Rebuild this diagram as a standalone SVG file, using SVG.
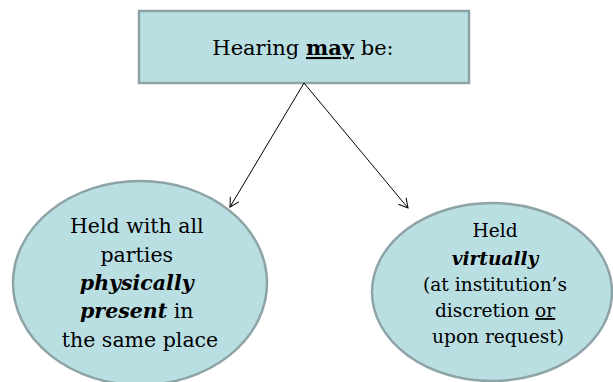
<svg xmlns="http://www.w3.org/2000/svg" width="613" height="382" viewBox="0 0 613 382">
<defs>
<marker id="arr" markerWidth="12" markerHeight="12" refX="10" refY="6" orient="auto" markerUnits="userSpaceOnUse">
<path d="M1,1 L10,6 L1,11" fill="none" stroke="#000" stroke-width="1"/>
</marker>
</defs>
<style>
.shape{fill:#b9dfe3;stroke:#8ea3a6;stroke-width:2.5}
.t{font-family:"DejaVu Serif","Liberation Serif",serif;fill:#000;text-anchor:middle}
.b{font-weight:bold}
.bi{font-weight:bold;font-style:italic}
.conn{stroke:#000;stroke-width:1;fill:none}
</style>
<rect width="613" height="382" fill="#fff"/>
<g id="top">
<rect class="shape" x="139" y="11" width="330" height="72"/>
<text class="t" x="303" y="55" font-size="21">Hearing <tspan class="b" text-decoration="underline">may</tspan> be:</text>
</g>
<g id="left">
<ellipse class="shape" cx="140" cy="283" rx="127" ry="102"/>
<text class="t" font-size="20.5">
<tspan x="140" y="233">Held with all</tspan>
<tspan x="140" y="262">parties</tspan>
<tspan x="140" y="290" class="bi">physically</tspan>
<tspan x="140" y="318"><tspan class="bi">present</tspan> in</tspan>
<tspan x="140" y="347">the same place</tspan>
</text>
</g>
<g id="right">
<ellipse class="shape" cx="492" cy="292" rx="120" ry="89"/>
<text class="t" font-size="18.6">
<tspan x="498" y="237">Held</tspan>
<tspan x="498" y="265" class="bi">virtually</tspan>
<tspan x="498" y="291">(at institution’s</tspan>
<tspan x="498" y="317">discretion <tspan text-decoration="underline">or</tspan></tspan>
<tspan x="498" y="343">upon request)</tspan>
</text>
</g>
<g id="connectors">
<line class="conn" x1="304" y1="83" x2="230" y2="207" marker-end="url(#arr)"/>
<line class="conn" x1="304" y1="83" x2="408" y2="208" marker-end="url(#arr)"/>
</g>
</svg>
